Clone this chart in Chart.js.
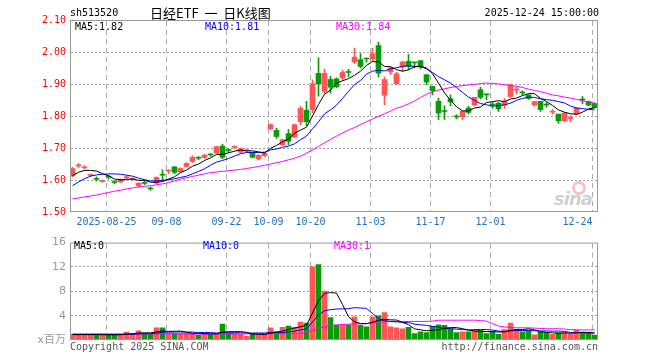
<!DOCTYPE html>
<html>
<head>
<meta charset="utf-8">
<script src="https://cdn.jsdelivr.net/npm/chart.js@4.4.1/dist/chart.umd.min.js"></script>
<style>
    body { margin: 0; background: #fff; }
    #wrap { position: relative; width: 660px; height: 360px; overflow: hidden; font-family: "DejaVu Sans Mono", monospace; font-size: 10px; }
    #wrap canvas { position: absolute; left: 0; }
    .t { position: absolute; white-space: pre; line-height: 12px; z-index: 2; }
    .eye { position: absolute; left: 572px; top: 181px; width: 8px; height: 8px; border: 3px solid #f4c4c4; border-radius: 50%; z-index: 1; }
</style>
</head>
<body>
<div id="wrap">
    <canvas id="kline" width="660" height="232" style="top:0"></canvas>
    <canvas id="vol" width="660" height="128" style="top:232px"></canvas>

    <span class="t" style="left:70px;top:7px">sh513520</span>
    <span class="t" style="left:150px;top:4px;font:13px 'Noto Sans CJK SC';line-height:18px">日经ETF  一  日K线图</span>
    <span class="t" style="right:61px;top:7px">2025-12-24 15:00:00</span>

    <span class="t" style="left:75px;top:21px">MA5:1.82</span>
    <span class="t" style="left:205px;top:21px;color:#0000ff">MA10:1.81</span>
    <span class="t" style="left:336px;top:21px;color:#ff00ff">MA30:1.84</span>

    <span class="t" style="left:74px;top:240px">MA5:0</span>
    <span class="t" style="left:203px;top:240px;color:#0000ff">MA10:0</span>
    <span class="t" style="left:334px;top:240px;color:#ff00ff">MA30:1</span>

    <div class="eye"></div>
    <span class="t" style="left:554px;top:188px;font:italic bold 18px 'DejaVu Sans';color:#cfcfcf;letter-spacing:-1px">sina</span>

    <span class="t" style="left:70px;top:341px;color:#555">Copyright 2025 SINA.COM</span>
    <span class="t" style="right:62px;top:341px;color:#555">http://finance.sina.com.cn</span>
</div>
<script>
(function() {
    'use strict';

    // ====== 数据 (88 个交易日, 2025-08-15 ~ 2025-12-24) ======
    var tickIdx  = [6, 16, 26, 33, 40, 50, 60, 70, 87];
    var tickText = ['2025-08-25', '09-08', '09-22', '10-09', '10-20', '11-03', '11-17', '12-01', '12-24     '];

    var openP = [1.613,1.644,1.638,1.614,1.604,1.595,1.611,1.594,1.594,1.607,
                 1.602,1.582,1.591,1.574,1.590,1.617,1.628,1.641,1.626,1.642,
                 1.658,1.669,1.670,1.679,1.684,1.706,1.693,1.702,1.687,1.691,
                 1.684,1.666,1.676,1.760,1.755,1.710,1.745,1.734,1.782,1.818,
                 1.820,1.933,1.877,1.914,1.916,1.919,1.937,1.969,1.976,1.979,
                 1.978,2.020,1.865,1.938,1.901,1.953,1.971,1.967,1.973,1.929,
                 1.893,1.846,1.815,1.854,1.798,1.797,1.825,1.834,1.882,1.867,
                 1.835,1.840,1.834,1.861,1.881,1.873,1.866,1.835,1.846,1.835,
                 1.812,1.806,1.785,1.792,1.806,1.851,1.845,1.839];
    var highP = [1.640,1.652,1.645,1.619,1.610,1.600,1.615,1.598,1.604,1.612,
                 1.607,1.592,1.596,1.578,1.610,1.632,1.632,1.642,1.638,1.654,
                 1.676,1.673,1.680,1.683,1.706,1.712,1.698,1.707,1.700,1.697,
                 1.686,1.679,1.686,1.776,1.762,1.728,1.758,1.775,1.830,1.846,
                 1.913,1.982,1.947,1.924,1.919,1.943,1.946,2.012,1.995,1.981,
                 2.012,2.031,1.922,1.953,1.937,1.971,1.992,1.968,1.973,1.929,
                 1.893,1.856,1.832,1.866,1.804,1.815,1.830,1.858,1.890,1.869,
                 1.843,1.843,1.855,1.900,1.892,1.879,1.866,1.845,1.846,1.842,
                 1.821,1.806,1.811,1.801,1.826,1.861,1.847,1.841];
    var lowP  = [1.610,1.639,1.634,1.612,1.597,1.593,1.603,1.588,1.592,1.604,
                 1.600,1.578,1.585,1.568,1.588,1.596,1.620,1.619,1.624,1.640,
                 1.655,1.663,1.668,1.674,1.682,1.666,1.686,1.699,1.685,1.688,
                 1.669,1.663,1.673,1.757,1.730,1.707,1.710,1.732,1.773,1.770,
                 1.810,1.862,1.870,1.872,1.888,1.912,1.923,1.964,1.950,1.968,
                 1.971,1.922,1.835,1.930,1.898,1.940,1.945,1.950,1.947,1.898,
                 1.866,1.789,1.789,1.832,1.791,1.788,1.806,1.832,1.853,1.851,
                 1.824,1.814,1.824,1.858,1.869,1.866,1.852,1.831,1.814,1.827,
                 1.806,1.777,1.782,1.782,1.804,1.838,1.832,1.824];
    var closeP = [1.636,1.646,1.640,1.616,1.602,1.597,1.609,1.592,1.602,1.609,
                  1.604,1.590,1.589,1.572,1.608,1.615,1.630,1.624,1.636,1.652,
                  1.671,1.668,1.678,1.678,1.704,1.671,1.692,1.703,1.698,1.692,
                  1.671,1.677,1.684,1.773,1.736,1.726,1.721,1.773,1.824,1.782,
                  1.901,1.901,1.933,1.890,1.891,1.936,1.936,1.984,1.955,1.978,
                  1.995,1.934,1.914,1.950,1.932,1.969,1.955,1.966,1.953,1.906,
                  1.879,1.809,1.814,1.844,1.797,1.815,1.811,1.858,1.858,1.866,
                  1.834,1.822,1.846,1.897,1.882,1.872,1.855,1.845,1.820,1.834,
                  1.813,1.785,1.809,1.793,1.825,1.850,1.834,1.826];

    var ma5  = [1.614,1.624,1.630,1.630,1.628,1.620,1.613,1.603,1.600,1.602,
                1.603,1.599,1.599,1.593,1.593,1.595,1.603,1.610,1.623,1.631,
                1.643,1.650,1.661,1.669,1.680,1.680,1.685,1.690,1.694,1.691,
                1.691,1.688,1.684,1.699,1.708,1.719,1.728,1.746,1.756,1.765,
                1.800,1.836,1.868,1.881,1.903,1.910,1.917,1.927,1.940,1.958,
                1.970,1.969,1.955,1.954,1.945,1.940,1.944,1.954,1.955,1.950,
                1.932,1.903,1.872,1.850,1.829,1.816,1.816,1.825,1.828,1.842,
                1.845,1.848,1.845,1.853,1.856,1.864,1.870,1.870,1.855,1.845,
                1.833,1.819,1.812,1.807,1.805,1.812,1.822,1.826];
    var ma10 = [1.582,1.594,1.604,1.612,1.616,1.618,1.619,1.619,1.618,1.615,
                1.612,1.606,1.601,1.597,1.597,1.599,1.601,1.604,1.608,1.612,
                1.619,1.627,1.635,1.646,1.656,1.661,1.667,1.675,1.682,1.686,
                1.686,1.686,1.687,1.694,1.697,1.702,1.706,1.713,1.726,1.737,
                1.760,1.782,1.807,1.819,1.834,1.855,1.877,1.898,1.911,1.931,
                1.940,1.943,1.941,1.947,1.951,1.955,1.957,1.955,1.955,1.947,
                1.936,1.923,1.913,1.903,1.889,1.874,1.859,1.849,1.839,1.835,
                1.831,1.832,1.835,1.840,1.849,1.855,1.859,1.858,1.854,1.851,
                1.849,1.845,1.841,1.831,1.825,1.823,1.821,1.819];
    var ma30 = [1.541,1.544,1.547,1.550,1.553,1.557,1.561,1.565,1.568,1.572,
                1.575,1.578,1.580,1.582,1.585,1.588,1.592,1.597,1.603,1.607,
                1.611,1.615,1.619,1.623,1.625,1.627,1.629,1.631,1.633,1.636,
                1.639,1.642,1.646,1.650,1.654,1.658,1.663,1.668,1.674,1.684,
                1.694,1.705,1.716,1.727,1.737,1.747,1.756,1.764,1.773,1.782,
                1.791,1.799,1.807,1.815,1.824,1.830,1.838,1.847,1.858,1.868,
                1.876,1.881,1.885,1.889,1.892,1.895,1.897,1.899,1.901,1.903,
                1.902,1.900,1.898,1.895,1.893,1.889,1.884,1.880,1.876,1.871,
                1.866,1.863,1.859,1.856,1.852,1.848,1.844,1.840];

    // 成交量 (百万)
    var vol   = [0.95,0.95,0.85,0.85,0.85,0.85,0.85,0.85,0.95,1.30,
                 1.10,1.50,1.05,0.95,2.00,2.00,1.10,1.10,1.10,1.10,
                 1.10,0.75,1.10,0.95,1.10,2.60,1.10,1.10,0.95,0.60,
                 1.10,0.95,0.95,2.00,1.35,2.10,2.30,2.10,2.95,2.80,
                 12.0,12.4,8.05,3.70,2.40,2.50,2.50,3.80,2.40,2.15,
                 3.80,3.95,4.50,2.15,2.00,1.85,2.10,1.05,1.35,1.20,
                 2.25,2.50,2.40,1.85,1.20,1.35,1.35,1.60,1.60,1.05,
                 1.35,0.95,1.70,2.80,1.75,1.35,1.60,0.85,1.30,1.20,
                 0.95,1.20,1.20,0.95,1.60,1.30,1.10,0.80];
    var vma5  = [0.88,0.88,0.88,0.88,0.89,0.87,0.85,0.85,0.87,0.96,
                 1.01,1.14,1.18,1.18,1.32,1.50,1.42,1.43,1.46,1.28,
                 1.10,1.03,1.03,1.00,1.00,1.30,1.37,1.37,1.37,1.27,
                 0.97,0.94,0.91,1.12,1.27,1.47,1.74,1.97,2.16,2.45,
                 4.43,6.45,7.64,7.79,7.71,5.81,3.83,2.98,2.72,2.67,
                 2.93,3.22,3.36,3.31,3.28,2.89,2.52,1.83,1.67,1.51,
                 1.59,1.67,1.94,2.04,2.04,1.86,1.63,1.47,1.42,1.39,
                 1.39,1.31,1.33,1.57,1.71,1.71,1.84,1.67,1.37,1.26,
                 1.18,1.10,1.17,1.10,1.18,1.25,1.23,1.15];
    var vma10 = [0.95,0.95,0.95,0.95,0.95,0.95,0.95,0.95,0.95,0.93,
                 0.94,1.00,1.02,1.03,1.14,1.26,1.28,1.31,1.32,1.30,
                 1.30,1.23,1.23,1.23,1.14,1.20,1.20,1.20,1.19,1.14,
                 1.14,1.16,1.14,1.25,1.27,1.22,1.34,1.44,1.64,1.86,
                 2.95,4.10,4.81,4.98,5.08,5.12,5.14,5.31,5.26,5.19,
                 4.37,3.53,3.17,3.02,2.98,2.91,2.87,2.60,2.49,2.40,
                 2.24,2.10,1.89,1.86,1.78,1.73,1.65,1.71,1.73,1.72,
                 1.63,1.47,1.40,1.50,1.55,1.55,1.58,1.50,1.47,1.49,
                 1.45,1.47,1.42,1.24,1.22,1.22,1.17,1.16];
    var vma30 = [0.95,0.95,0.95,0.95,0.95,0.95,0.95,0.95,0.95,0.95,
                 1.00,1.00,1.00,1.00,1.00,1.00,1.00,1.00,1.00,1.00,
                 1.00,1.00,1.00,1.00,1.00,1.00,1.00,1.00,1.00,1.00,
                 1.05,1.05,1.05,1.05,1.05,1.05,1.05,1.05,1.10,1.20,
                 1.55,1.95,2.20,2.40,2.50,2.55,2.60,2.65,2.65,2.70,
                 2.80,2.90,3.00,3.05,3.05,3.05,3.05,3.05,3.05,3.05,
                 3.10,3.25,3.25,3.25,3.25,3.25,3.25,3.25,3.20,3.10,
                 2.70,2.30,2.15,2.05,2.00,2.00,2.00,1.95,1.90,1.85,
                 1.85,1.85,1.80,1.70,1.68,1.66,1.65,1.65];

    // ====== 样式 ======
    var RED = '#ff5555', GREEN = '#079c07';
    var MONO = "'DejaVu Sans Mono', monospace";
    var XMIN = -2.5 / 6, XMAX = XMIN + 88;   // 每根K线 6px

    function up(i) { return closeP[i] >= openP[i]; }
    function candleColor(c) { return up(c.dataIndex) ? RED : GREEN; }
    function pts(arr) { return arr.map(function(v, i) { return { x: i, y: v }; }); }
    function maLine(arr, color) {
        return { type: 'line', data: pts(arr), borderColor: color, borderWidth: 1, pointRadius: 0, tension: 0, order: 0 };
    }

    // 外框
    var boxPlugin = {
        id: 'box',
        afterDraw: function(c) {
            var a = c.chartArea, ctx = c.ctx;
            ctx.save();
            ctx.strokeStyle = '#999'; ctx.lineWidth = 1;
            ctx.strokeRect(a.left + 0.5, a.top + 0.5, a.right - a.left - 1, a.bottom - a.top - 1);
            ctx.restore();
        }
    };

    // 虚线网格: 竖线为短划线, 横线为点线
    var gridPlugin = {
        id: 'dashGrid',
        beforeDatasetsDraw: function(c) {
            var a = c.chartArea, ctx = c.ctx, xs = c.scales.x, ys = c.scales.y;
            ctx.save();
            ctx.lineWidth = 1;
            ctx.strokeStyle = '#aaaaaa';
            ctx.setLineDash([5, 4]);
            xs.ticks.forEach(function(t) {
                var px = Math.round(xs.getPixelForValue(t.value) - 0.5) + 0.5;
                ctx.beginPath(); ctx.moveTo(px, a.top + 1); ctx.lineTo(px, a.bottom); ctx.stroke();
            });
            ctx.strokeStyle = '#a0a0a0';
            ctx.setLineDash([2, 2]);
            ys.ticks.forEach(function(t) {
                if (t.value <= ys.min + 1e-9 || t.value >= ys.max - 1e-9) return;
                var py = Math.round(ys.getPixelForValue(t.value) - 0.5) + 0.5;
                ctx.beginPath(); ctx.moveTo(a.left + 1, py); ctx.lineTo(a.right, py); ctx.stroke();
            });
            ctx.restore();
        }
    };

    var noGrid = { display: false, drawTicks: false };

    function xAxis(labels) {
        return {
            type: 'linear', min: XMIN, max: XMAX, offset: false,
            afterBuildTicks: function(s) { s.ticks = tickIdx.map(function(i) { return { value: i - 1 / 3 }; }); },
            afterFit: function(s) { s.height = labels ? 20 : 0; },
            grid: noGrid,
            border: { display: false },
            ticks: { display: labels, autoSkip: false, maxRotation: 0, padding: 4, color: '#1e70c0',
                     font: { family: MONO, size: 10 },
                     callback: function(v, i) { return tickText[i]; } }
        };
    }

    Chart.defaults.animation = false;
    Chart.defaults.responsive = false;
    Chart.defaults.plugins.legend.display = false;
    Chart.defaults.plugins.tooltip.enabled = false;

    // ====== K线 ======
    new Chart(document.getElementById('kline'), {
        type: 'bar',
        data: { datasets: [
            maLine(ma5, '#000000'), maLine(ma10, '#0000ff'), maLine(ma30, '#ff00ff'),
            { data: openP.map(function(o, i) { return { x: i, y: [o, closeP[i]] }; }),
              backgroundColor: candleColor, barThickness: 5, minBarLength: 1, grouped: false, order: 1 },
            { data: lowP.map(function(l, i) { return { x: i, y: [l, highP[i]] }; }),
              backgroundColor: candleColor, barThickness: 1, minBarLength: 1, grouped: false, order: 2 }
        ] },
        options: {
            devicePixelRatio: 1,
            layout: { padding: { left: 0, top: 20, right: 62, bottom: 0 } },
            scales: {
                x: xAxis(true),
                y: { min: 1.5, max: 2.1,
                     afterFit: function(s) { s.width = 70; },
                     grid: noGrid,
                     border: { display: false },
                     ticks: { stepSize: 0.1, padding: 4, color: '#ff0000', font: { family: MONO, size: 10 },
                              callback: function(v) { return v.toFixed(2); } } }
            }
        },
        plugins: [gridPlugin, boxPlugin]
    });

    // ====== 成交量 ======
    new Chart(document.getElementById('vol'), {
        type: 'bar',
        data: { datasets: [
            maLine(vma5, '#000000'), maLine(vma10, '#0000ff'), maLine(vma30, '#ff00ff'),
            { data: pts(vol), backgroundColor: candleColor, barThickness: 5, grouped: false, order: 1 }
        ] },
        options: {
            devicePixelRatio: 1,
            layout: { padding: { left: 0, top: 7, right: 62, bottom: 20 } },
            scales: {
                x: xAxis(false),
                y: { min: 0, max: 16,
                     afterFit: function(s) { s.width = 70; },
                     grid: noGrid,
                     border: { display: false },
                     ticks: { stepSize: 4, padding: 4, color: '#999',
                              font: { family: "'DejaVu Sans', 'Noto Sans CJK SC'", size: 11 },
                              callback: function(v) { return v === 0 ? 'x百万' : v; } } }
            }
        },
        plugins: [gridPlugin, boxPlugin]
    });
})();
</script>
</body>
</html>
